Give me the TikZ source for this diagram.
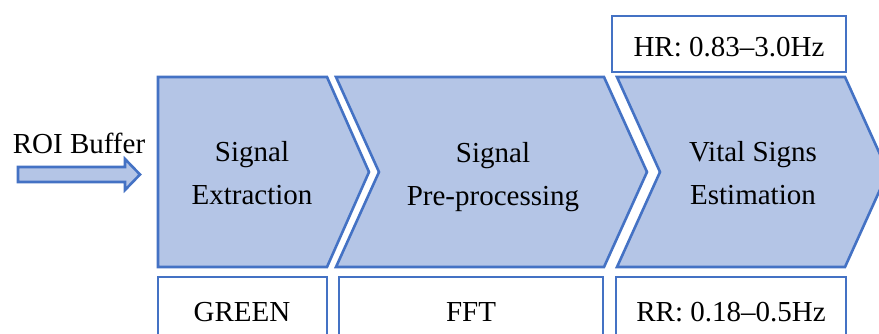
\documentclass[tikz,border=0pt]{standalone}
\usepackage{fontspec}
\setmainfont{Liberation Serif}
\definecolor{stageblue}{RGB}{68,114,196}
\definecolor{stagefill}{RGB}{180,197,230}
\begin{document}
\begin{tikzpicture}[x=0.5pt, y=-0.5pt,
    stage/.style={draw=stageblue, fill=stagefill, line width=1.3pt, line join=miter},
    infobox/.style={draw=stageblue, fill=white, line width=1.4pt},
    stagetext/.style={align=center, font=\fontsize{14.5}{21.5}\selectfont},
    boxtext/.style={font=\fontsize{14.5}{16}\selectfont}]
\useasboundingbox (0,0) rectangle (879,333);
\clip (0,0) rectangle (879,333);
% input arrow
\node[boxtext] (roi) at (79,143) {ROI Buffer};
\draw[stage] (18,167) -- (125,167) -- (125,159) -- (140,174.5) -- (125,190)
    -- (125,182) -- (18,182) -- cycle;
% stages
\draw[stage] (158,77) -- (327,77) -- (369,172) -- (327,267) -- (158,267) -- cycle;
\draw[stage] (336,77) -- (604,77) -- (647,172) -- (604,267) -- (336,267)
    -- (379,172) -- cycle;
\draw[stage] (617,77) -- (845,77) -- (888,172) -- (845,267) -- (617,267)
    -- (660,172) -- cycle;
\node[stagetext] (extract) at (252,173) {Signal\\Extraction};
\node[stagetext] (preproc) at (493,177) {Signal\\Pre-processing};
\node[stagetext] (vital) at (753,173) {Vital Signs\\Estimation};
% parameter boxes
\draw[infobox] (612,16) rectangle (846,72);
\draw[infobox] (158,277) rectangle (327,345);
\draw[infobox] (339,277) rectangle (603,345);
\draw[infobox] (616,277) rectangle (846,345);
\node[boxtext] (hr) at (729,47) {HR: 0.83--3.0Hz};
\node[boxtext] (green) at (242,312) {GREEN};
\node[boxtext] (fft) at (471,312) {FFT};
\node[boxtext] (rr) at (731,312) {RR: 0.18--0.5Hz};
\end{tikzpicture}
\end{document}
